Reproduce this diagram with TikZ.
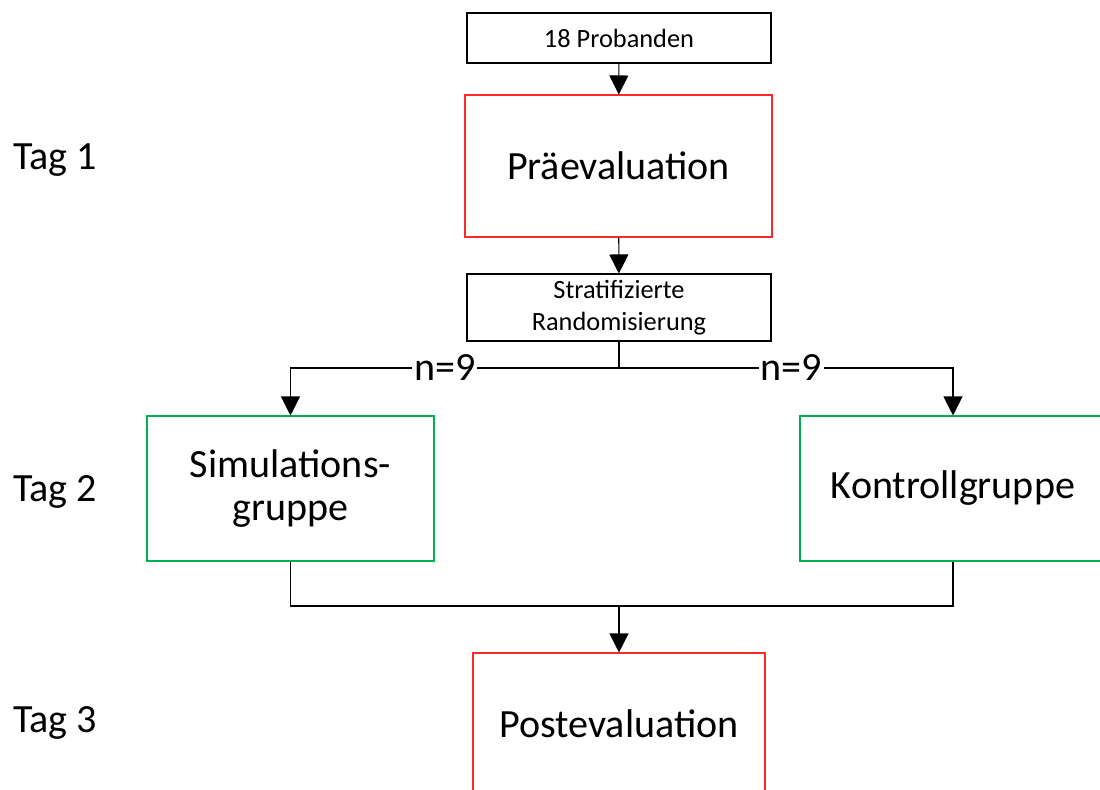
\documentclass[tikz,border=0pt]{standalone}
\usepackage{fontspec}
\setmainfont{Carlito}
\usetikzlibrary{arrows.meta}
\definecolor{boxred}{RGB}{255,40,40}
\definecolor{boxgreen}{RGB}{0,176,80}
\tikzset{
  big/.style={font=\fontsize{22.8}{25}\selectfont},
  small/.style={font=\fontsize{15}{18}\selectfont},
  box/.style={draw, rectangle, line width=0.6pt, align=center, inner sep=0pt},
  redbox/.style={box, draw=boxred, big},
  greenbox/.style={box, draw=boxgreen, big},
  blackbox/.style={box, draw=black, small},
  conn/.style={draw=black, line width=0.6pt},
  arr/.style={conn, -{Triangle[width=0.38cm,length=0.38cm]}},
  lbl/.style={big, fill=white, inner sep=1pt},
  daylabel/.style={big, anchor=west, inner sep=0pt}
}
\begin{document}
\begin{tikzpicture}[x=0.02cm,y=-0.02cm]
\useasboundingbox (0,0) rectangle (1100,790);
\clip (0,0) rectangle (1100,790);
\node[blackbox, minimum width=304*0.02cm, minimum height=50*0.02cm] (prob) at (619,38) {18 Probanden};
\node[redbox, minimum width=307*0.02cm, minimum height=142*0.02cm] (prae) at (618.5,166) {Präevaluation};
\node[blackbox, minimum width=304*0.02cm, minimum height=67*0.02cm] (strat) at (619,307.5) {Stratifizierte\\Randomisierung};
\node[greenbox, minimum width=287*0.02cm, minimum height=145*0.02cm] (sim) at (290.5,488.5) {Simulations-\\gruppe};
\node[greenbox, minimum width=306*0.02cm, minimum height=145*0.02cm] (kon) at (953,488.5) {Kontrollgruppe};
\node[redbox, minimum width=292*0.02cm, minimum height=142*0.02cm] (post) at (619,724) {Postevaluation};

\node[daylabel] (t1) at (13,160) {Tag 1};
\node[daylabel] (t2) at (13,492) {Tag 2};
\node[daylabel] (t3) at (13,723) {Tag 3};

\coordinate (split) at (strat.south |- 0,368);
\coordinate (merge) at (strat.south |- 0,606);

\draw[arr] (prob) -- (prae);
\draw[arr] (prae) -- (strat);
\draw[conn] (strat.south) -- (split);
\draw[arr] (split) -| node[lbl, pos=0.265] (nl) {n=9} (sim.north);
\draw[arr] (split) -| node[lbl, pos=0.258] (nr) {n=9} (kon.north);
\draw[conn] (sim.south) |- (merge) -| (kon.south);
\draw[arr] (merge) -- (post.north);
\end{tikzpicture}
\end{document}
